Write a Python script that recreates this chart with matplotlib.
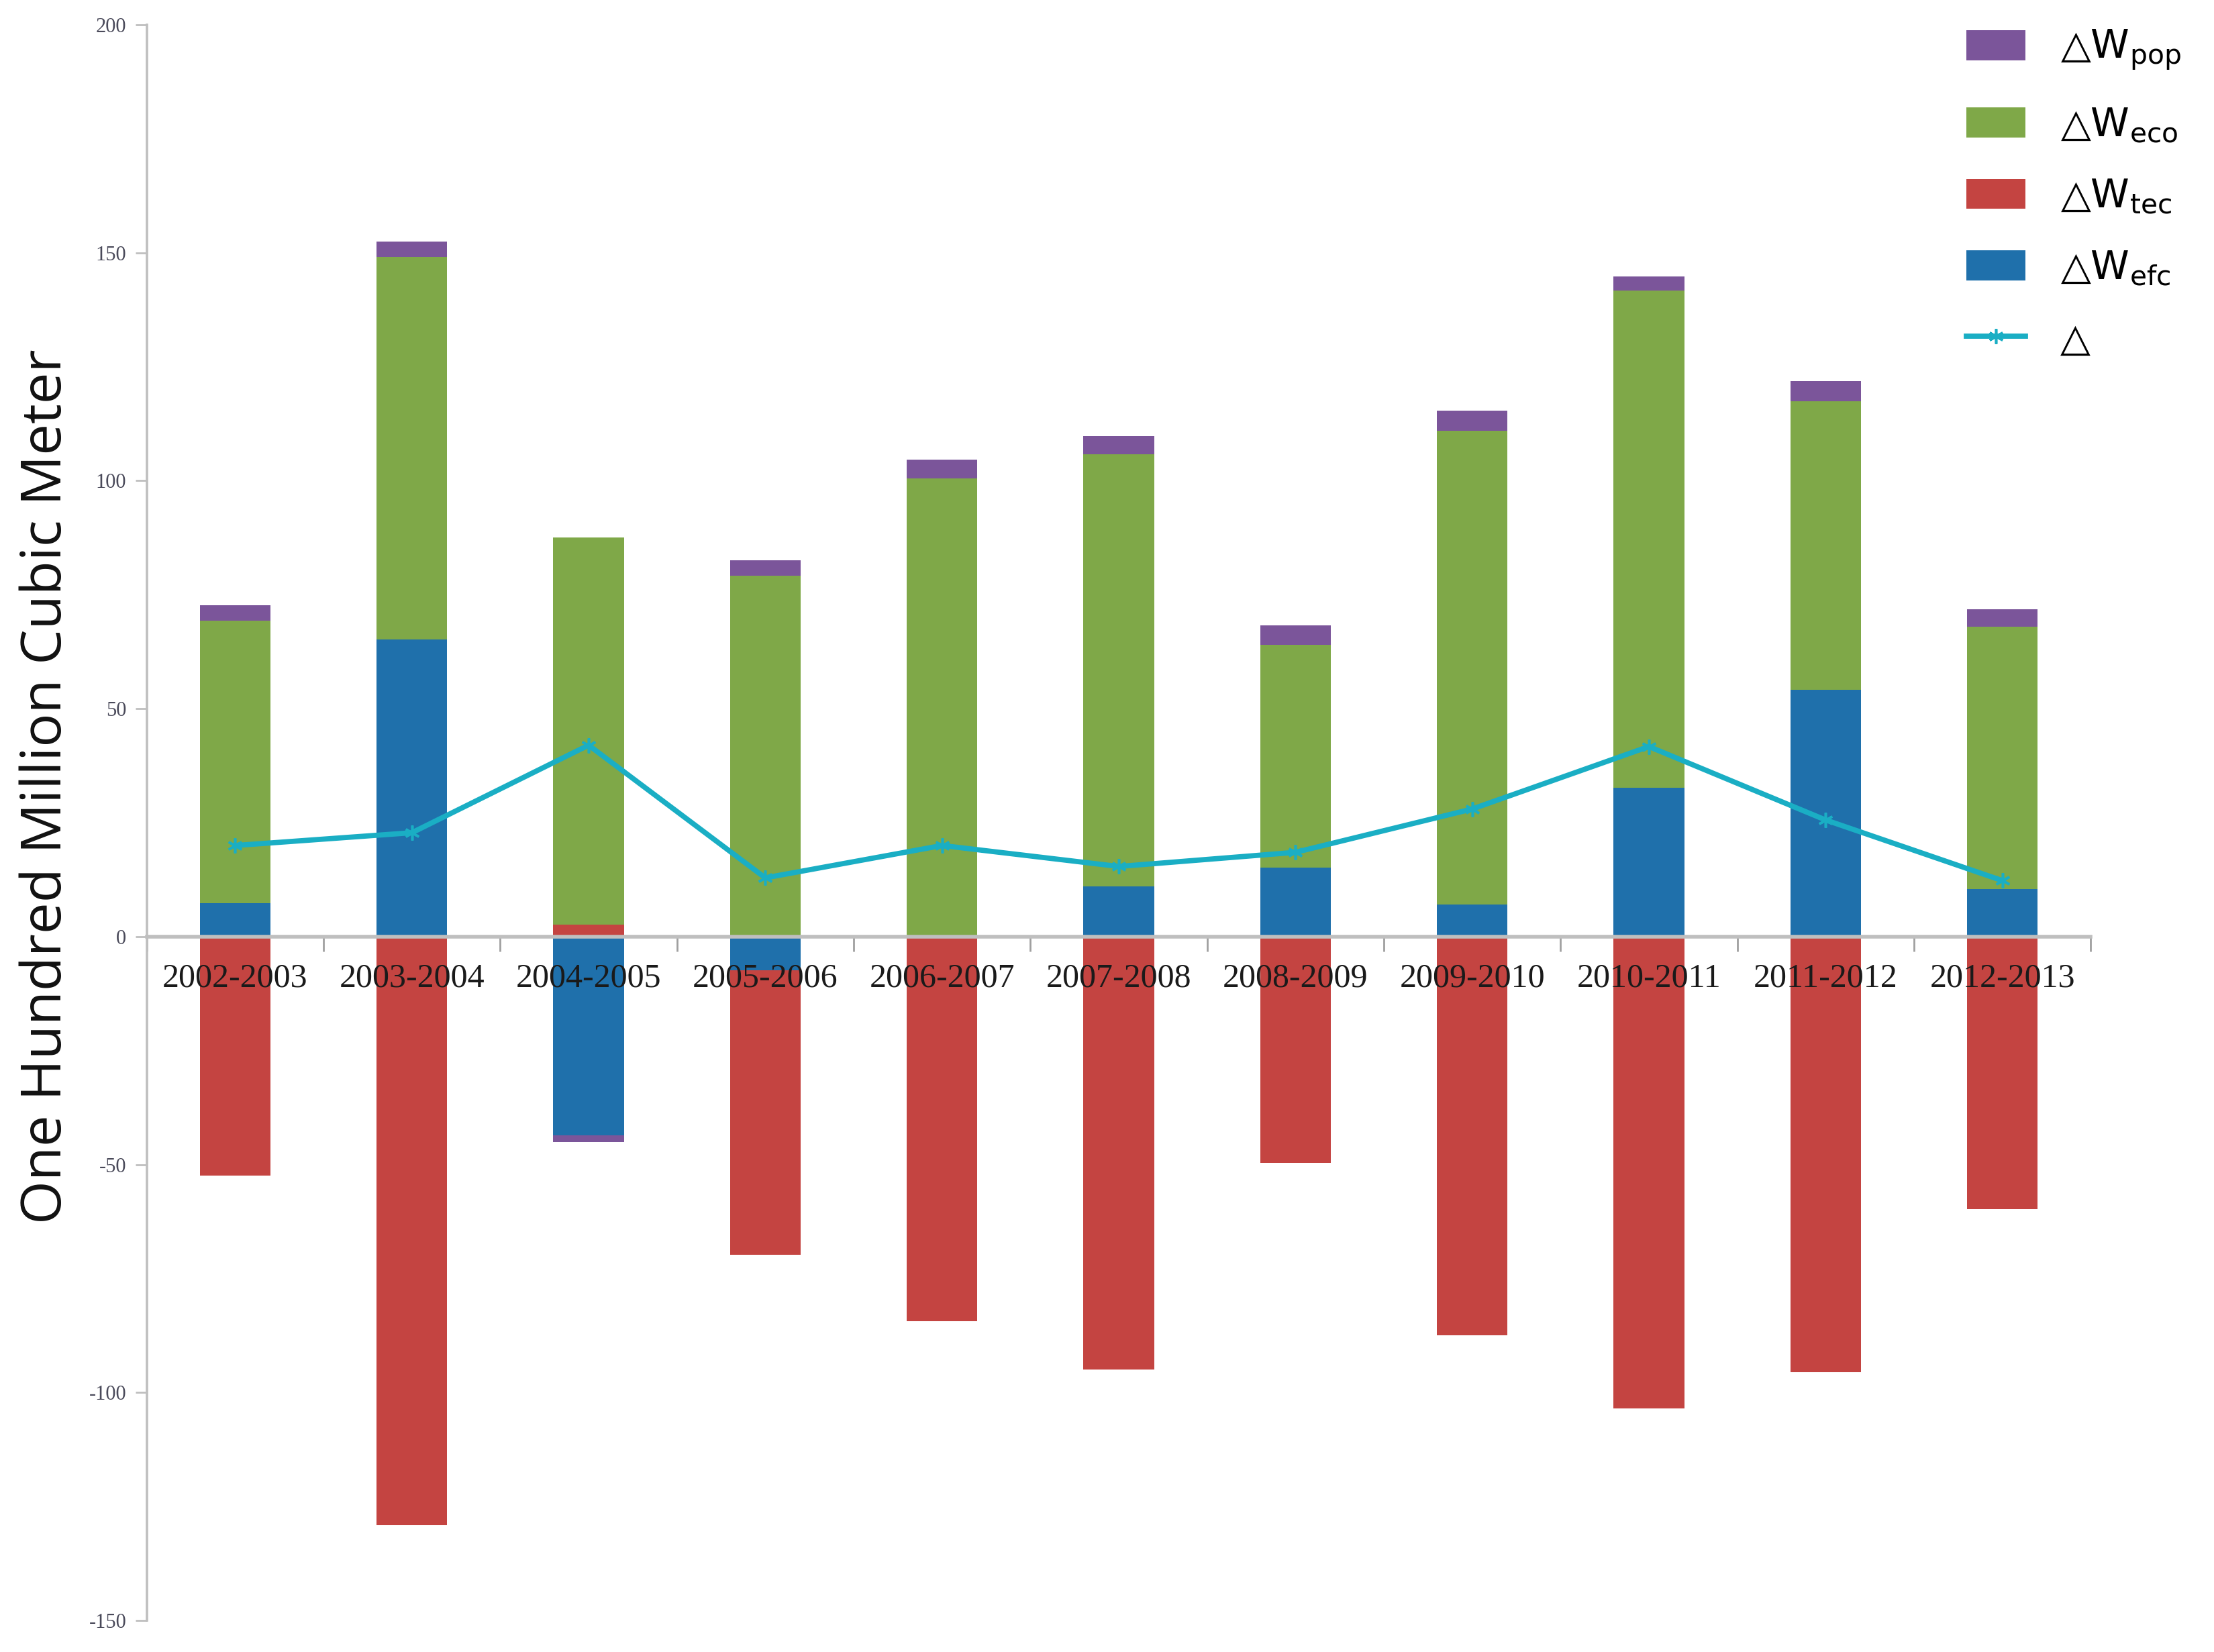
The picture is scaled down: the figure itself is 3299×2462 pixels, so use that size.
import matplotlib
matplotlib.use("Agg")
import matplotlib.pyplot as plt
import numpy as np

# ---- data ----
periods = ["2002-2003", "2003-2004", "2004-2005", "2005-2006", "2006-2007", "2007-2008",
           "2008-2009", "2009-2010", "2010-2011", "2011-2012", "2012-2013"]
w_efc = [7.3, 65.2, -43.5, -7.4, 0.0, 11.0, 15.1, 7.0, 32.7, 54.1, 10.4]
w_tec = [-52.4, -129.0, 2.7, -62.4, -84.4, -94.9, -49.6, -87.4, -103.5, -95.5, -59.8]
w_eco = [62.0, 83.9, 84.8, 79.2, 100.5, 94.8, 48.9, 104.0, 109.0, 63.4, 57.6]
w_pop = [3.4, 3.4, -1.5, 3.4, 4.1, 4.0, 4.3, 4.4, 3.1, 4.4, 3.8]
delta = [20.0, 22.8, 42.0, 12.9, 20.0, 15.4, 18.5, 28.0, 41.7, 25.6, 12.3]

yticks = [-150, -100, -50, 0, 50, 100, 150, 200]

c_pop = "#7b559a"
c_eco = "#7fa848"
c_tec = "#c44441"
c_efc = "#1f70ab"
c_line = "#1aaec4"
grey = "#bfbfbf"

plt.rcParams["font.family"] = ["Open Sans", "DejaVu Sans"]
plt.rcParams["mathtext.default"] = "regular"

fig = plt.figure(figsize=(3299 / 200, 2462 / 200), dpi=200)
ax = fig.add_axes([0.0663, 0.019, 0.878, 0.966])

x = np.arange(len(periods))
pos_base = np.zeros(len(periods))
neg_base = np.zeros(len(periods))
handles = {}
# stacking order bottom->top: efc, tec, eco, pop (pos and neg stacked separately)
for name, vals, col in [("efc", w_efc, c_efc), ("tec", w_tec, c_tec),
                        ("eco", w_eco, c_eco), ("pop", w_pop, c_pop)]:
    v = np.array(vals)
    bottom = np.where(v >= 0, pos_base, neg_base)
    handles[name] = ax.bar(x, v, width=0.4, bottom=bottom, color=col, zorder=1)
    pos_base = pos_base + np.where(v >= 0, v, 0)
    neg_base = neg_base + np.where(v < 0, v, 0)

line, = ax.plot(x, delta, color=c_line, lw=2.8, marker=(6, 2, 0), ms=8,
                mew=1.3, mec=c_line, zorder=3)

ax.set_xlim(-0.5, len(periods) - 0.5)
ax.set_ylim(-150, 200)

for s in ["top", "right"]:
    ax.spines[s].set_visible(False)
ax.spines["left"].set_color(grey)
ax.spines["left"].set_linewidth(1.3)
ax.spines["bottom"].set_position(("data", 0))
ax.spines["bottom"].set_color(grey)
ax.spines["bottom"].set_linewidth(2.0)
ax.spines["bottom"].set_zorder(2.5)

ax.set_xticks(x)
ax.set_xticklabels(periods, family="Liberation Serif", fontsize=18, color="#1a1a1a")
ax.set_xticks(np.arange(-0.5, len(periods)), minor=True)
ax.tick_params(axis="x", which="major", length=0, pad=14)
ax.tick_params(axis="x", which="minor", length=8, width=1.0, color="#a0a0a0", direction="out")

ax.set_yticks(yticks)
ax.set_yticklabels([str(t) for t in yticks], family="Liberation Serif", fontsize=11, color="#4a4a5a")
ax.tick_params(axis="y", length=6, width=1.0, color=grey, pad=5)

fig.text(0.021, 0.524, "One Hundred Million Cubic Meter", rotation=90,
         fontsize=30, ha="center", va="center", color="#111111")

leg = ax.legend([handles["pop"], handles["eco"], handles["tec"], handles["efc"], line],
                ["△W$_{pop}$", "△W$_{eco}$", "△W$_{tec}$", "△W$_{efc}$", "△"],
                loc="upper left", bbox_to_anchor=(0.918, 1.02), frameon=False,
                prop={"family": "DejaVu Sans", "size": 21},
                handlelength=1.5, handleheight=0.8,
                labelspacing=0.85, handletextpad=0.9)

fig.savefig("out.png", dpi=200)
